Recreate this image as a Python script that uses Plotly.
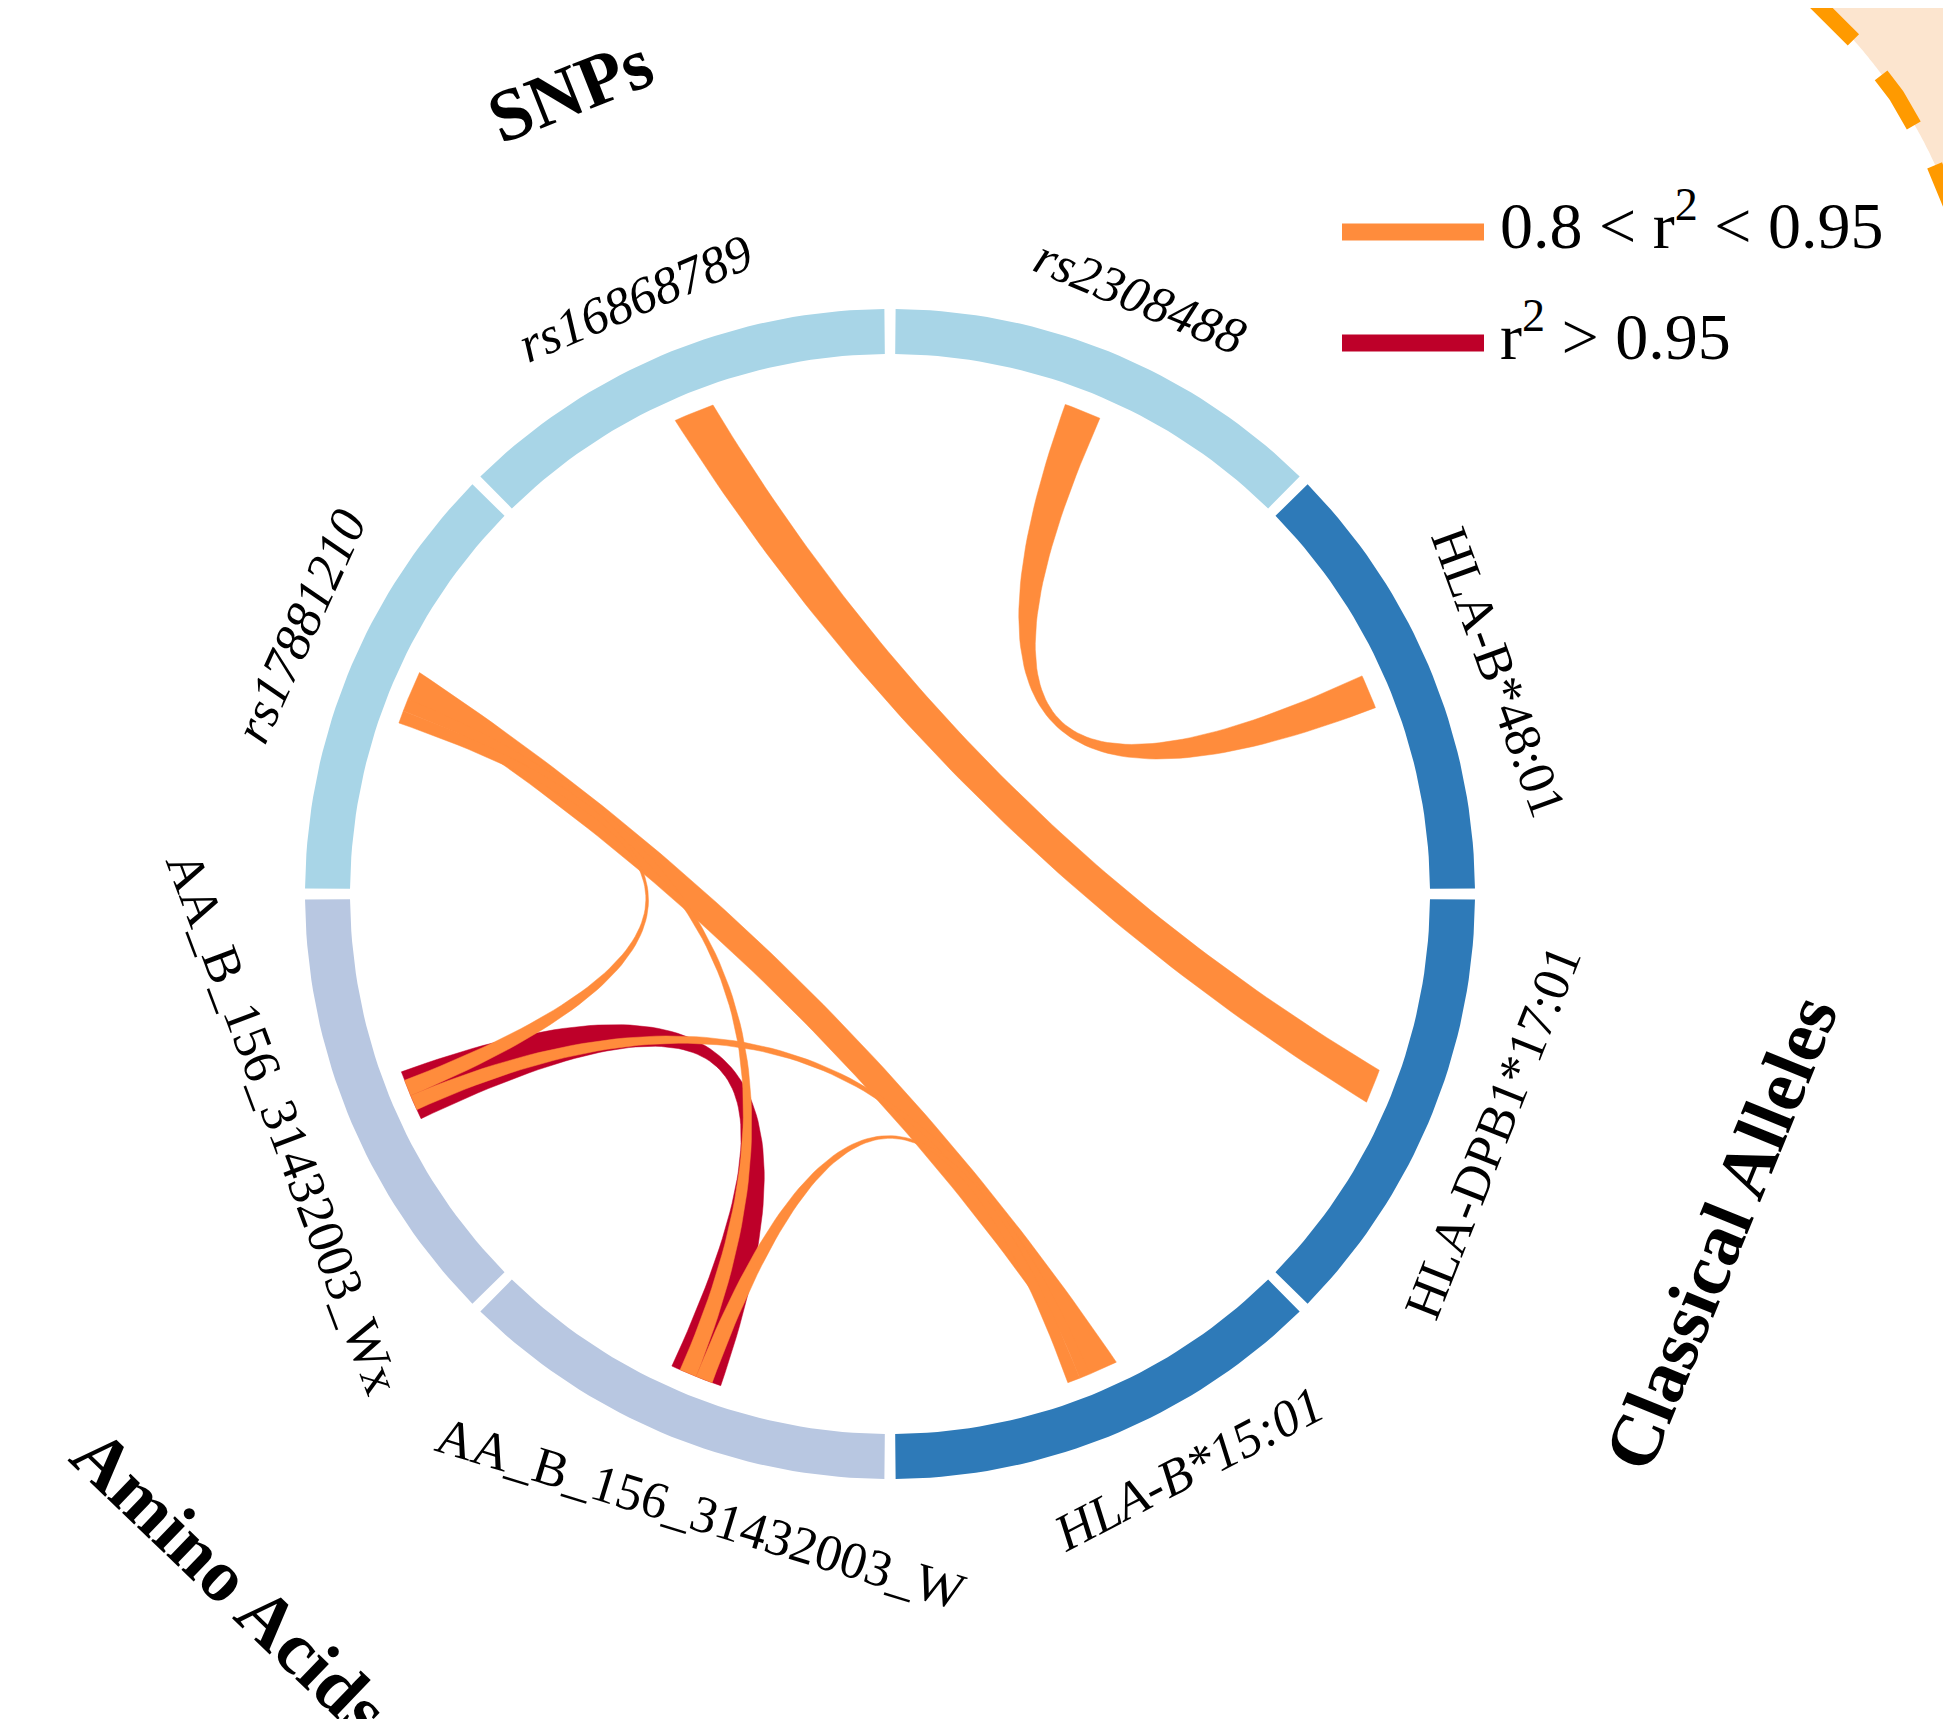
import numpy as np
import plotly.graph_objects as go

# ---------------- data ----------------
segments = ["HLA-B*48:01", "rs2308488", "rs16868789", "rs17881210",
            "AA_B_156_31432003_Wx", "AA_B_156_31432003_W", "HLA-B*15:01", "HLA-DPB1*17:01"]
seg_group = ["Classical Alleles", "SNPs", "SNPs", "SNPs",
             "Amino Acids", "Amino Acids", "Classical Alleles", "Classical Alleles"]
seg_size = [45, 45, 45, 45, 45, 45, 45, 45]          # degrees of the circle per item
label_italic = [False, True, True, True, False, False, True, False]
label_angle = [20.0, 67.3, 113.2, 155.6, -159.3, -107.0, -62.5, -21.6]

link_src = ["AA_B_156_31432003_Wx", "rs2308488", "rs16868789", "rs17881210", "rs17881210",
            "rs17881210", "AA_B_156_31432003_Wx", "AA_B_156_31432003_W"]
link_tgt = ["AA_B_156_31432003_W", "HLA-B*48:01", "HLA-DPB1*17:01", "HLA-B*15:01",
            "AA_B_156_31432003_W", "AA_B_156_31432003_Wx", "HLA-B*15:01", "HLA-B*15:01"]
link_src_pos = [(20.0, 25.6), (21.2, 25.3), (19.9, 24.4), (19.8, 23.0),
                (23.0, 24.4), (24.4, 25.8), (22.8, 24.5), (23.1, 25.0)]
link_tgt_pos = [(20.2, 26.0), (21.0, 24.8), (21.4, 25.2), (22.6, 25.8),
                (21.2, 23.1), (21.0, 22.8), (21.4, 22.6), (20.0, 21.4)]
link_class = ["high", "mid", "mid", "mid", "mid", "mid", "mid", "mid"]

legend_labels = {"mid": "0.8 &lt; r<sup>2</sup> &lt; 0.95", "high": "r<sup>2</sup> &gt; 0.95"}
group_titles = ["SNPs", "Classical Alleles", "Amino Acids"]
group_angle = [111.7, -22.2, -133.8]
group_radius = [865, 897, 953]

# ---------------- style ----------------
W, H = 1951, 1719
CX, CY = 882, 886
R_IN, R_OUT, R_LINK, R_LABEL = 540, 585, 520, 648
GAP = 0.55
group_color = {"SNPs": "#A8D5E7", "Classical Alleles": "#2E7AB8", "Amino Acids": "#B8C7E1"}
link_color = {"mid": "#FF8C3C", "high": "#BE0029"}
SERIF = "Liberation Serif, Times New Roman, serif"

seg_start = {}
acc = 0.0
for s, sz in zip(segments, seg_size):
    seg_start[s] = acc
    acc += sz


def P(theta, r):
    t = np.radians(theta)
    return np.array([CX + r * np.cos(t), CY - r * np.sin(t)])


def arc(a0, a1, r, n=40):
    th = np.linspace(a0, a1, n)
    return np.array([P(t, r) for t in th])


def bez(p0, p2, ctrl, n=80):
    t = np.linspace(0, 1, n)[:, None]
    return (1 - t) ** 2 * p0 + 2 * (1 - t) * t * ctrl + t ** 2 * p2


def flip(rot):
    while rot > 90:
        rot -= 180
    while rot <= -90:
        rot += 180
    return rot


fig = go.Figure()

# decorative corner of the neighbouring panel
ccx, ccy, cr = 1469, 367, 504
th = np.linspace(np.radians(48.5), np.radians(-12), 200)
ax_ = ccx + cr * np.cos(th)
ay_ = ccy - cr * np.sin(th)
path = "M %.1f,%.1f " % (ax_[0], ay_[0]) + " ".join("L %.1f,%.1f" % (x, y) for x, y in zip(ax_, ay_))
path += " L %d,%.1f L %d,-10 L %.1f,-10 Z" % (W + 10, ay_[-1], W + 10, ax_[0])
fig.add_shape(type="path", path=path, xref="x", yref="y", fillcolor="#FCE5CF",
              line=dict(width=0), layer="below")
fig.add_trace(go.Scatter(x=ax_, y=ay_, mode="lines",
                         line=dict(color="#FF9A00", width=16, dash="60px,45px"),
                         hoverinfo="skip"))

# ring segments
for s, g, sz in zip(segments, seg_group, seg_size):
    a0 = seg_start[s] + GAP
    a1 = seg_start[s] + sz - GAP
    outer = arc(a0, a1, R_OUT)
    inner = arc(a1, a0, R_IN)
    poly = np.vstack([outer, inner, outer[:1]])
    fig.add_trace(go.Scatter(x=poly[:, 0], y=poly[:, 1], mode="lines", fill="toself",
                             fillcolor=group_color[g], line=dict(width=0),
                             hoverinfo="text", text=s))

# links
C = np.array([CX, CY], float)
for src, tgt, sp, tp, cl in zip(link_src, link_tgt, link_src_pos, link_tgt_pos, link_class):
    a0, a1 = seg_start[src] + sp[0], seg_start[src] + sp[1]
    b0, b1 = seg_start[tgt] + tp[0], seg_start[tgt] + tp[1]
    d = abs(((a0 + a1) / 2 - (b0 + b1) / 2 + 180) % 360 - 180)
    beta = max(0.0, (d - 90) / 100)
    gamma = 0.9 * beta
    pa0, pa1, pb0, pb1 = P(a0, R_LINK), P(a1, R_LINK), P(b0, R_LINK), P(b1, R_LINK)
    m1 = (pa1 + pb0) / 2
    m2 = (pb1 + pa0) / 2
    mc = (m1 + m2) / 2
    c1 = C + beta * (m1 - C) + gamma * (m1 - mc)
    c2 = C + beta * (m2 - C) + gamma * (m2 - mc)
    pts = np.vstack([arc(a0, a1, R_LINK, 10),
                     bez(pa1, pb0, c1),
                     arc(b0, b1, R_LINK, 10),
                     bez(pb1, pa0, c2)])
    fig.add_trace(go.Scatter(x=pts[:, 0], y=pts[:, 1], mode="lines", fill="toself",
                             fillcolor=link_color[cl], line=dict(width=0.5, color=link_color[cl]),
                             hoverinfo="text", text=f"{src} - {tgt}"))

# item labels
for s, ang, it in zip(segments, label_angle, label_italic):
    x, y = P(ang, R_LABEL)
    txt = f"<i>{s}</i>" if it else s
    fig.add_annotation(x=x, y=y, text=txt, showarrow=False, textangle=flip(90 - ang),
                       xanchor="center", yanchor="middle",
                       font=dict(family=SERIF, size=52, color="black"))

# group titles
for gname, ang, rr in zip(group_titles, group_angle, group_radius):
    x, y = P(ang, rr)
    fig.add_annotation(x=x, y=y, text=f"<b>{gname}</b>", showarrow=False,
                       textangle=flip(90 - ang), xanchor="center", yanchor="middle",
                       font=dict(family=SERIF, size=74, color="black"))

# legend
for i, cl in enumerate(["mid", "high"]):
    ly = 224 + i * 111
    fig.add_trace(go.Scatter(x=[1334, 1476], y=[ly, ly], mode="lines",
                             line=dict(color=link_color[cl], width=17), hoverinfo="skip"))
    fig.add_annotation(x=1490, y=ly - 12, text=legend_labels[cl], showarrow=False,
                       xanchor="left", yanchor="middle",
                       font=dict(family=SERIF, size=66, color="black"))

fig.update_layout(width=W, height=H, margin=dict(l=0, r=0, t=0, b=0),
                  paper_bgcolor="white", plot_bgcolor="white", showlegend=False,
                  xaxis=dict(range=[0, W], visible=False, fixedrange=True),
                  yaxis=dict(range=[H, 0], visible=False, fixedrange=True))

fig.write_html("out.html")
